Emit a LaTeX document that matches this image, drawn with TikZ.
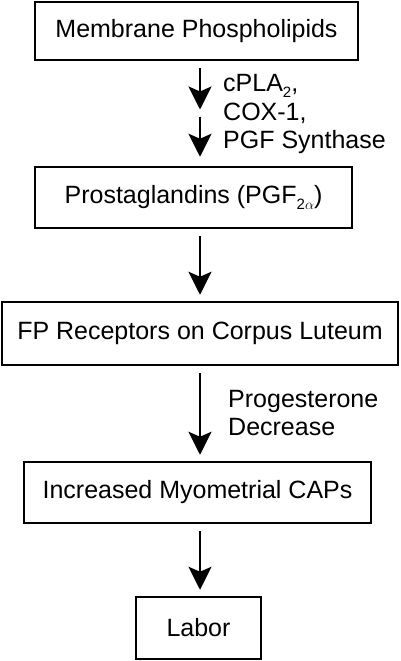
\documentclass[tikz,border=0pt]{standalone}
\usepackage{fontspec}
\setmainfont{Liberation Sans}
\usetikzlibrary{arrows.meta}
\newcommand{\lowsub}[1]{\raisebox{-0.45ex}{\fontsize{15}{15}\selectfont #1}}

\begin{document}
\begin{tikzpicture}[x=1pt,y=-1pt,>={Stealth[width=23pt,length=23pt,inset=5pt]},
	stagebox/.style={draw,line width=2.5pt,inner sep=0pt,minimum height=60pt},
	arr/.style={->,line width=2.2pt,shorten <=7pt,shorten >=6pt},
	note/.style={anchor=west,align=left,inner sep=0pt}]
		% fix the page size
		\useasboundingbox (0,0) rectangle (400,661);
		\fontsize{25}{28.5}\selectfont

		% the stages
		\node[stagebox,minimum width=323pt,minimum height=58pt] (mp) at (196.5,31) {Membrane Phospholipids};
		\node[stagebox,minimum width=317pt,minimum height=61pt] (pg) at (193.5,197.5) {Prostaglandins (PGF\lowsub{2$\alpha$})};
		\node[stagebox,minimum width=396pt,minimum height=63pt] (fp) at (200,333.5) {FP Receptors on Corpus Luteum};
		\node[stagebox,minimum width=347pt,minimum height=61pt] (cap) at (197.5,492.5) {Increased Myometrial CAPs};
		\node[stagebox,minimum width=125pt,minimum height=62pt] (lab) at (198.5,628) {Labor};

		% the arrows run down this line
		\coordinate (spine) at (200,0);
		\coordinate (step1) at (200,112.5);

		\draw[arr,shorten >=3pt] (mp.south -| spine) -- (step1);
		\draw[arr,shorten <=4pt,shorten >=9pt] (step1) -- (pg.north -| spine);
		\draw[arr] (pg.south -| spine) -- (fp.north -| spine);
		\draw[arr] (fp.south -| spine) -- (cap.north -| spine);
		\draw[arr] (cap.south -| spine) -- (lab.north -| spine);

		% the labels beside the arrows
		\node[note] (enz) at (223,114) {cPLA\lowsub{2},\\COX-1,\\PGF Synthase};
		\node[note] (prog) at (228,413) {Progesterone\\Decrease};
	\end{tikzpicture}
\end{document}
